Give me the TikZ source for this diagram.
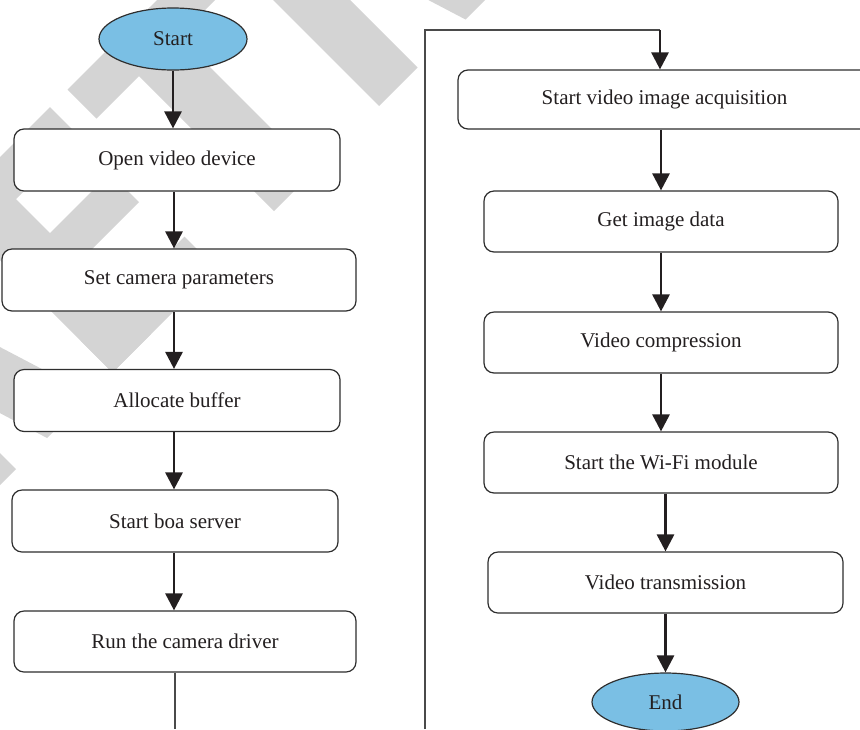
\documentclass[tikz,border=0pt]{standalone}
\usepackage{fontspec}
\setmainfont{Liberation Serif}
\usetikzlibrary{arrows.meta,shapes.geometric}
\definecolor{ink}{HTML}{231F20}
\definecolor{edge}{HTML}{2E2E2E}
\definecolor{skyfill}{HTML}{7ABFE4}
\definecolor{stamp}{HTML}{D4D4D4}
\definecolor{wire}{HTML}{4A4A4A}
% filled quadrilateral in the 45-degree stamp frame: p from #1 to #2, q from #3 to #4
\newcommand\wmrect[4]{\fill[stamp] (#1,#3) -- (#2,#3) -- (#2,#4) -- (#1,#4) -- cycle;}
\begin{document}
\begin{tikzpicture}[x=0.5pt,y=-0.5pt,
  every node/.style={font=\fontsize{10.5}{12}\selectfont, text=ink},
  stepbox/.style={draw=edge, line width=0.6pt, fill=white, rounded corners=5pt,
    inner sep=0pt, minimum height=31pt},
  terminal/.style={ellipse, draw=edge, line width=0.6pt, fill=skyfill, inner sep=0pt},
  flow/.style={draw=ink, line width=1.4pt, -{Triangle[length=8.5pt,width=8.5pt]}},
  wireline/.style={draw=wire, line width=0.75pt}]
\useasboundingbox (0,0) rectangle (860,729);
\clip (0,0) rectangle (860,729);

% diagonal "RETRACTED" stamp behind the chart (p = x+y, q = x-y)
\begin{scope}[x={(0.25pt,-0.25pt)}, y={(0.25pt,0.25pt)}]
  % R
  \wmrect{157}{485}{-530}{-453}
  \fill[stamp] (280,-454) -- (485,-391) -- (485,-304) -- (280,-368) -- cycle;
  % E
  \wmrect{157}{485}{-260}{-183}
  \wmrect{157}{215}{-260}{-57}
  \wmrect{283}{341}{-260}{-63}
  \wmrect{421}{485}{-260}{-52}
  % T
  \wmrect{157}{215}{-22}{228}
  \wmrect{157}{485}{63}{143}
  % R
  \wmrect{157}{485}{273}{350}
  \fill[stamp] (280,382) -- (485,446) -- (485,533) -- (280,469) -- cycle;
\end{scope}

% left column
\node[terminal, minimum width=74pt, minimum height=31pt] (start) at (173,39) {Start};
\node[stepbox, minimum width=163pt] (open) at (177,160) {Open video device};
\node[stepbox, minimum width=177pt] (setcam) at (179,280) {Set camera parameters};
\node[stepbox, minimum width=163pt] (alloc) at (177,400.5) {Allocate buffer};
\node[stepbox, minimum width=163pt] (boa) at (175,521) {Start boa server};
\node[stepbox, minimum width=171pt, minimum height=30.5pt] (run) at (185,641.5) {Run the camera driver};

% right column
\node[stepbox, minimum width=206.5pt, minimum height=29.5pt] (acq) at (664.5,99.5) {Start video image acquisition};
\node[stepbox, minimum width=177pt, minimum height=30.5pt] (getimg) at (661,221.5) {Get image data};
\node[stepbox, minimum width=177pt, minimum height=30.5pt] (comp) at (661,342.5) {Video compression};
\node[stepbox, minimum width=177pt, minimum height=30.5pt] (wifi) at (661,462.5) {Start the Wi-Fi module};
\node[stepbox, minimum width=177.5pt, minimum height=30.5pt] (trans) at (665.5,582.5) {Video transmission};
\node[terminal, minimum width=73.5pt, minimum height=29pt] (finish) at (665.5,702) {End};

% helper points
\coordinate (lcol) at (174,0);
\coordinate (leftend) at (175,729);
\coordinate (rightend) at (425,729);
\coordinate (topturn) at (660,30);

% left column arrows
\draw[flow] (start.south) -- (start.south |- open.north);
\draw[flow] (lcol |- open.south) -- (lcol |- setcam.north);
\draw[flow] (lcol |- setcam.south) -- (lcol |- alloc.north);
\draw[flow] (lcol |- alloc.south) -- (lcol |- boa.north);
\draw[flow] (lcol |- boa.south) -- (lcol |- run.north);
\draw[wireline] (run.south -| leftend) -- (leftend);

% continuation into the right column
\draw[wireline] (rightend) |- (topturn);
\draw[flow] (topturn) -- (topturn |- acq.north);

% right column arrows
\draw[flow] (getimg.north |- acq.south) -- (getimg.north);
\draw[flow] (getimg.south) -- (comp.north);
\draw[flow] (comp.south) -- (wifi.north);
\draw[flow] (trans.north |- wifi.south) -- (trans.north);
\draw[flow] (trans.south) -- (finish.north);
\end{tikzpicture}
\end{document}
